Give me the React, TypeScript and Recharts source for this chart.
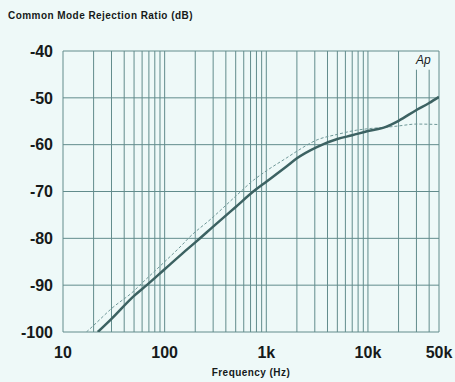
import { LineChart, Line, XAxis, YAxis, ReferenceLine } from "recharts";

// thick solid trace
const solidFreq = [22, 30, 50, 66.7, 100, 150, 207, 300, 500, 776, 1000, 1590, 2000, 3140, 5000, 7000, 10000, 15000, 20000, 30000, 40000, 50000];
const solidDb = [-100, -97.2, -92.3, -90, -86.6, -83.2, -80.6, -77.5, -73.3, -69.7, -67.9, -64.6, -62.9, -60.5, -58.8, -58, -57.1, -56.2, -54.9, -52.6, -51.1, -49.8];

// thin dashed trace
const dashedFreq = [17, 20, 30, 50, 57, 100, 150, 171, 291, 500, 747, 1000, 1590, 2000, 3140, 5000, 7760, 10000, 16500, 20000, 30300, 50000];
const dashedDb = [-100, -98.6, -95, -91.2, -90, -85, -81.3, -80, -75.7, -71, -67.6, -65.6, -62.8, -61.4, -59, -57.8, -56.9, -56.6, -56.2, -56, -55.6, -55.7];

const xTicks = [10, 100, 1000, 10000, 50000];
const yTicks = [-100, -90, -80, -70, -60, -50, -40];
const gridFreqs = [
  10, 20, 30, 40, 50, 60, 70, 80, 90,
  100, 200, 300, 400, 500, 600, 700, 800, 900,
  1000, 2000, 3000, 4000, 5000, 6000, 7000, 8000, 9000,
  10000, 20000, 50000,
];
const shortGridFreqs = [30000, 40000]; // these stop below the "Ap" mark

const solidData = solidFreq.map((f, i) => ({ f, db: solidDb[i] }));
const dashedData = dashedFreq.map((f, i) => ({ f, db: dashedDb[i] }));

const gridColor = "#628c8c";

function fmtFreq(v: number) {
  return v >= 1000 ? `${v / 1000}k` : `${v}`;
}

export default function App() {
  return (
    <div
      style={{
        position: "absolute",
        left: 0,
        top: 0,
        width: 455,
        height: 382,
        background: "#eef9f8",
        fontFamily: "'Liberation Sans', Arial, sans-serif",
        color: "#161a1a",
      }}
    >
      <div style={{ position: "absolute", left: 8, top: 10, fontSize: 10, fontWeight: "bold", lineHeight: "12px", letterSpacing: 0.45 }}>
        Common Mode Rejection Ratio (dB)
      </div>
      <LineChart width={455} height={382} margin={{ top: 51, right: 16, left: 8, bottom: 0 }}>
        <XAxis
          dataKey="f"
          type="number"
          scale="log"
          domain={[10, 50000]}
          ticks={xTicks}
          tickFormatter={fmtFreq}
          allowDataOverflow
          height={50}
          axisLine={false}
          tickLine={false}
          tickMargin={9}
          tick={{ fontSize: 16, fontWeight: "bold", fill: "#161a1a" }}
        />
        <YAxis
          dataKey="db"
          type="number"
          domain={[-100, -40]}
          ticks={yTicks}
          allowDataOverflow
          width={55}
          axisLine={false}
          tickLine={false}
          tickMargin={4}
          tick={{ fontSize: 16, fontWeight: "bold", fill: "#161a1a" }}
        />
        {yTicks.map((v) => (
          <ReferenceLine key={`h${v}`} y={v} stroke={gridColor} strokeWidth={1} />
        ))}
        {gridFreqs.map((v) => (
          <ReferenceLine key={`v${v}`} x={v} stroke={gridColor} strokeWidth={1} />
        ))}
        {shortGridFreqs.map((v) => (
          <ReferenceLine
            key={`s${v}`}
            segment={[{ x: v, y: -44 }, { x: v, y: -100 }]}
            stroke={gridColor}
            strokeWidth={1}
          />
        ))}
        <Line
          data={dashedData}
          dataKey="db"
          type="monotone"
          stroke="#6f9898"
          strokeWidth={1}
          strokeDasharray="3 2"
          dot={false}
          isAnimationActive={false}
        />
        <Line
          data={solidData}
          dataKey="db"
          type="monotone"
          stroke="#3c6262"
          strokeWidth={2.5}
          dot={false}
          isAnimationActive={false}
        />
      </LineChart>
      <div style={{ position: "absolute", left: 416, top: 53, fontSize: 12, fontStyle: "italic", lineHeight: "14px" }}>
        Ap
      </div>
      <div
        style={{
          position: "absolute",
          left: 63,
          width: 376,
          top: 367,
          textAlign: "center",
          fontSize: 10,
          fontWeight: "bold",
          lineHeight: "12px",
          letterSpacing: 0.45,
        }}
      >
        Frequency (Hz)
      </div>
    </div>
  );
}
